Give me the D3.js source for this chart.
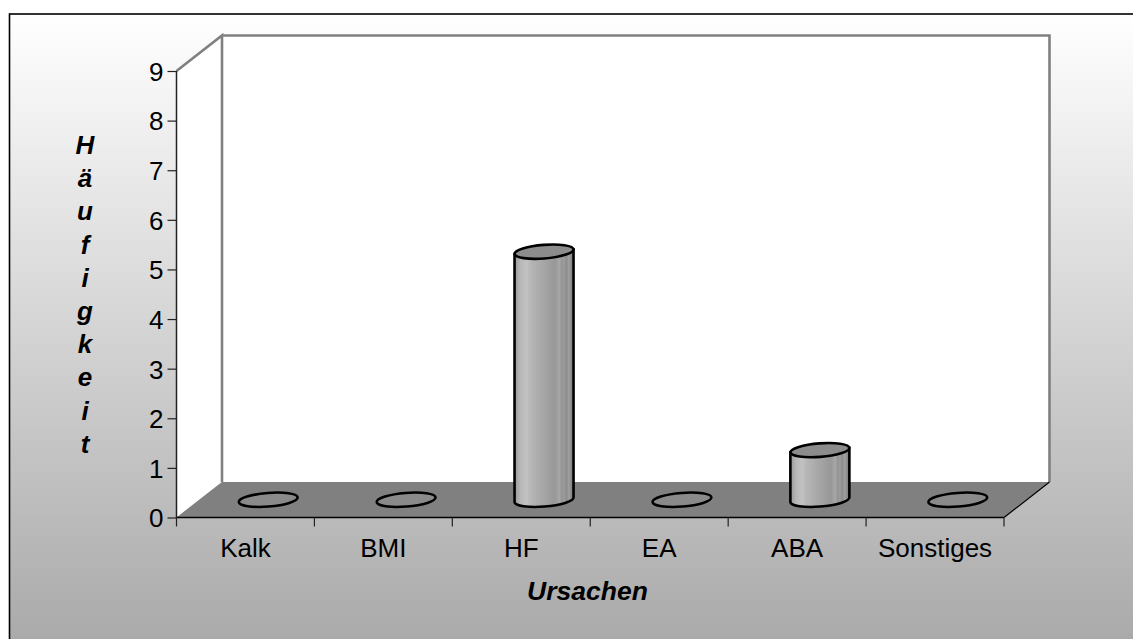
<!DOCTYPE html>
<html><head><meta charset="utf-8">
<script src="https://cdn.jsdelivr.net/npm/d3@7"></script>
<style>html,body{margin:0;padding:0;background:#fff;overflow:hidden}svg{display:block}text{font-family:"Liberation Sans",Arial,sans-serif;fill:#000}</style>
</head><body><svg width="1133" height="639"></svg>
<script>
const categories=["Kalk","BMI","HF","EA","ABA","Sonstiges"];
const values=[0,0,5,0,1,0];
const yTicks=[0,1,2,3,4,5,6,7,8,9];
const yTitle=["H","ä","u","f","i","g","k","e","i","t"];
const xTitle="Ursachen";
const barOffsets=[0,.05,.1,.14,.2,.26,.3,.36,.42,.46,.52,.58,.62,.68,.72,.76,.8,.84,.88,.92,.96,1];
const barGrays=["#989898","#a8a8a8","#b8b8b8","#bcbcbc","#c2c2c2","#b8b8b8","#b4b4b4","#b0b0b0","#aaaaaa","#a8a8a8","#a4a4a4","#a0a0a0","#9c9c9c","#989898","#9e9e9e","#a8a8a8","#949494","#9c9c9c","#8c8c8c","#a0a0a0","#8a8a8a","#808080"];

const svg=d3.select("svg");
const x=d3.scaleBand().domain(categories).range([176.5,1004]);
const y=d3.scaleLinear().domain([0,9]).range([517.5,71]);
const dx=45.5,dy=35.5;
const defs=svg.append("defs");
const bg=defs.append("linearGradient").attr("id","bg").attr("x1",0).attr("y1",0).attr("x2",0).attr("y2",1);
bg.append("stop").attr("offset",0).attr("stop-color","#ffffff");
bg.append("stop").attr("offset",1).attr("stop-color","#a8a8a8");
const bar=defs.append("linearGradient").attr("id","bar");
barOffsets.forEach((o,i)=>bar.append("stop").attr("offset",o).attr("stop-color",barGrays[i]));

svg.append("rect").attr("x",9.5).attr("y",14).attr("width",1140).attr("height",640).attr("fill","url(#bg)").attr("stroke","#000").attr("stroke-width",1.6);

const x0=x.range()[0],x1=x.range()[1],y0=y(0),yT=y(9);
const pts=a=>a.map(p=>p.join(",")).join(" ");
svg.append("polygon").attr("points",pts([[x0,y0],[x0+dx,y0-dy],[x1+dx,y0-dy],[x1+dx,yT-dy],[x0+dx,yT-dy],[x0,yT]])).attr("fill","#fff");
svg.append("polygon").attr("points",pts([[x0,y0],[x0+dx,y0-dy],[x1+dx,y0-dy],[x1,y0]])).attr("fill","#808080");
svg.append("polyline").attr("points",pts([[x0,yT],[x0+dx,yT-dy],[x0+dx,y0-dy]])).attr("fill","none").attr("stroke","#808080").attr("stroke-width",2.6);
svg.append("polyline").attr("points",pts([[x0+dx,yT-dy],[x1+dx,yT-dy],[x1+dx,y0-dy]])).attr("fill","none").attr("stroke","#808080").attr("stroke-width",2.6);
svg.append("line").attr("x1",x1).attr("y1",y0).attr("x2",x1+dx).attr("y2",y0-dy).attr("stroke","#000").attr("stroke-width",1.2);

const gy=svg.append("g").attr("transform",`translate(${x0},0)`).call(d3.axisLeft(y).tickValues(yTicks).tickSize(9).tickPadding(4).tickFormat(d3.format("d")));
gy.selectAll("text").style("font-size","26px").attr("dy","0.36em");
gy.select(".domain").attr("stroke","#222").attr("stroke-width",1.5).attr("d",`M0,${y0}V${yT}`);
gy.selectAll(".tick line").attr("stroke","#222").attr("stroke-width",1.2);

const gx=svg.append("g").attr("transform",`translate(0,${y0})`);
gx.append("line").attr("x1",x0).attr("x2",x1).attr("stroke","#000").attr("stroke-width",1.5);
gx.selectAll("line.t").data([...categories.map(c=>x(c)),x1]).join("line").attr("class","t").attr("x1",d=>d).attr("x2",d=>d).attr("y1",0).attr("y2",9).attr("stroke","#222").attr("stroke-width",1.2);
gx.selectAll("text").data(categories).join("text").attr("x",c=>x(c)+x.bandwidth()/2).attr("y",39).attr("text-anchor","middle").style("font-size","26px").text(c=>c);

const rx=29.5,ry=6.8,tilt=-4.5;
const cyl=svg.append("g").selectAll("g").data(categories.map((c,i)=>({c,v:values[i]}))).join("g");
const cx=d=>x(d.c)+x.bandwidth()/2+dx/2;
const base=()=>y0-dy/2;
cyl.filter(d=>d.v>0).append("path").attr("fill","url(#bar)").attr("stroke","#000").attr("stroke-width",2.6).attr("d",d=>{
  const c=cx(d),b=base(),t=y(d.v)-dy/2,s=2.3;
  return `M${c-rx},${t+s}L${c-rx},${b+s}A${rx},${ry} ${tilt} 0 0 ${c+rx},${b-s}L${c+rx},${t-s}Z`;
});
cyl.append("ellipse").attr("cx",cx).attr("cy",d=>y(d.v)-dy/2).attr("rx",rx).attr("ry",ry).attr("transform",d=>`rotate(${tilt} ${cx(d)} ${y(d.v)-dy/2})`).attr("fill",d=>d.v>0?"#8c8c8c":"#8a8a8a").attr("stroke","#000").attr("stroke-width",2.6);

svg.append("text").attr("x",587.5).attr("y",600).attr("text-anchor","middle").style("font-size","26.5px").style("font-weight","bold").style("font-style","italic").text(xTitle);
svg.append("g").selectAll("text").data(yTitle).join("text").attr("x",85).attr("y",(d,i)=>154+i*33.2).attr("text-anchor","middle").style("font-size","26px").style("font-weight","bold").style("font-style","italic").text(d=>d);
</script></body></html>
